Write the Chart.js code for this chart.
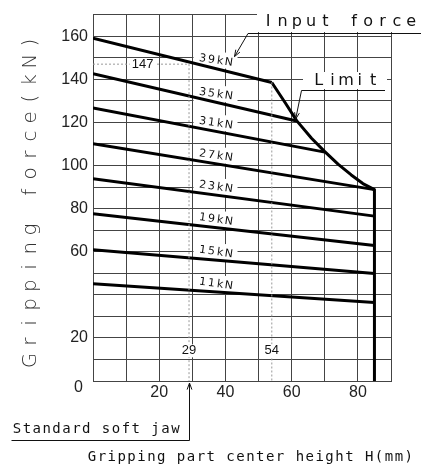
<!DOCTYPE html>
<html>
<head>
<meta charset="utf-8">
<script src="https://cdn.jsdelivr.net/npm/chart.js@4.4.1/dist/chart.umd.min.js"></script>
<style>
  html, body { margin: 0; padding: 0; background: #fff; }
  #chart { display: block; }
</style>
</head>
<body>
<canvas id="chart" width="428" height="475"></canvas>
<script>
// ------------------ Data ------------------
const inputForces = ["39kN", "35kN", "31kN", "27kN", "23kN", "19kN", "15kN", "11kN"];
const startForce = [159, 142.6, 126.7, 110.1, 93.9, 77.6, 60.9, 45.1];   // kN at H = 0
const endHeight = [54, 61.5, 70, 85, 85, 85, 85, 85];                   // mm where the line stops
const endForce = [138.5, 120.6, 106.2, 88.8, 76.5, 62.9, 49.9, 36.4];

const limitHeight = [54, 58, 61.5, 66, 70, 74, 78, 81.5, 85, 85];
const limitForce = [138.5, 129.2, 120.8, 112.6, 106.4, 100.6, 95.6, 91.6, 88.8, 0];

const jawHeight = 29;     // standard soft jaw
const breakHeight = 54;
const jawForce = 147;

const xTickLabels = [20, 40, 60, 80];
const yTickLabels = [0, 20, 60, 80, 100, 120, 140, 160];

// ------------------ Helpers ------------------
function spaced(ctx, str, x0, y, pitch) {
  ctx.textAlign = "center";
  ctx.textBaseline = "middle";
  for (let i = 0; i < str.length; i++) {
    ctx.fillText(str[i], x0 + pitch * (i + 0.5), y);
  }
}

function arrow(ctx, x1, y1, x2, y2) {
  ctx.beginPath();
  ctx.moveTo(x1, y1);
  ctx.lineTo(x2, y2);
  const a = Math.atan2(y2 - y1, x2 - x1);
  const len = 7;
  ctx.moveTo(x2, y2);
  ctx.lineTo(x2 - len * Math.cos(a - 0.35), y2 - len * Math.sin(a - 0.35));
  ctx.moveTo(x2, y2);
  ctx.lineTo(x2 - len * Math.cos(a + 0.35), y2 - len * Math.sin(a + 0.35));
  ctx.stroke();
}

function boxText(ctx, str, cx, cy, w, h) {
  ctx.fillStyle = "#fff";
  ctx.fillRect(cx - w / 2, cy - h / 2, w, h);
  ctx.fillStyle = "#111";
  ctx.font = "13px 'Liberation Sans', Arial, sans-serif";
  ctx.textAlign = "center";
  ctx.textBaseline = "middle";
  ctx.fillText(str, cx, cy);
}

// ------------------ Annotations ------------------
const annotate = {
  id: "annotate",
  beforeDatasetsDraw(chart) {
    const ctx = chart.ctx;
    const X = v => chart.scales.x.getPixelForValue(v);
    const Y = v => chart.scales.y.getPixelForValue(v);
    ctx.save();
    // force labels along each line
    inputForces.forEach((label, i) => {
      const h = 37;
      const v = startForce[i] + (endForce[i] - startForce[i]) * h / endHeight[i];
      const cx = X(h), cy = Y(v) - 8;
      ctx.fillStyle = "#fff";
      ctx.fillRect(cx - 22, cy - 8, 44, 16);
      ctx.save();
      ctx.translate(cx, cy);
      ctx.rotate(8 * Math.PI / 180);
      ctx.fillStyle = "#111";
      ctx.font = "11px 'DejaVu Sans', sans-serif";
      spaced(ctx, label, -17.5, 0, 8.8);
      ctx.restore();
    });
    ctx.restore();
  },
  afterDatasetsDraw(chart) {
    const ctx = chart.ctx;
    const X = v => chart.scales.x.getPixelForValue(v);
    const Y = v => chart.scales.y.getPixelForValue(v);
    ctx.save();
    boxText(ctx, String(jawForce), X(15), Y(jawForce), 26, 12);
    boxText(ctx, String(jawHeight), X(jawHeight), Y(14), 20, 13);
    boxText(ctx, String(breakHeight), X(breakHeight), Y(14), 20, 13);

    ctx.strokeStyle = "#111";
    ctx.lineWidth = 1;
    ctx.font = "16px 'DejaVu Sans', sans-serif";

    // Input force callout
    ctx.fillStyle = "#fff";
    ctx.fillRect(257, 8, 166, 24);
    ctx.fillStyle = "#111";
    spaced(ctx, "Input force", 261, 22, 14.3);
    const lx = X(37), ly = Y(startForce[0] + (endForce[0] - startForce[0]) * 37 / endHeight[0]) - 8;
    ctx.beginPath();
    ctx.moveTo(248, 33.5);
    ctx.lineTo(421, 33.5);
    ctx.stroke();
    arrow(ctx, 248, 33.5, lx + 19, ly - 4);

    // Limit callout
    ctx.fillStyle = "#fff";
    ctx.fillRect(303, 72, 84, 17);
    ctx.fillStyle = "#111";
    spaced(ctx, "Limit", 312, 81, 13.6);
    ctx.beginPath();
    ctx.moveTo(301.5, 90.5);
    ctx.lineTo(385, 90.5);
    ctx.stroke();
    arrow(ctx, 301.5, 90.5, X(61.2), Y(121.5));
    ctx.restore();
  },
  afterDraw(chart) {
    const ctx = chart.ctx;
    const X = v => chart.scales.x.getPixelForValue(v);
    const Y = v => chart.scales.y.getPixelForValue(v);
    ctx.save();
    // y zero label sits a little low and left
    ctx.fillStyle = "#222";
    ctx.font = "16px 'Liberation Sans', Arial, sans-serif";
    ctx.textAlign = "center";
    ctx.textBaseline = "middle";
    ctx.fillText(String(yTickLabels[0]), X(0) - 14.5, Y(0) + 7);

    // y title
    ctx.save();
    ctx.translate(31, 201.5);
    ctx.rotate(-Math.PI / 2);
    ctx.fillStyle = "#333";
    ctx.font = "200 20px 'DejaVu Sans', sans-serif";
    spaced(ctx, "Gripping force(kN)", -168.3, 0, 18.7);
    ctx.restore();

    // x title
    ctx.fillStyle = "#111";
    ctx.font = "14px 'DejaVu Sans Mono', monospace";
    spaced(ctx, "Gripping part center height H(mm)", 87, 457, 9.9);

    // standard soft jaw
    spaced(ctx, "Standard soft jaw", 12, 429, 9.9);
    ctx.strokeStyle = "#111";
    ctx.lineWidth = 1;
    const jx = Math.round(X(jawHeight)) + 0.5;
    ctx.beginPath();
    ctx.moveTo(11.5, 440.5);
    ctx.lineTo(jx, 440.5);
    ctx.stroke();
    arrow(ctx, jx, 440.5, jx, Y(0) + 2);
    ctx.restore();
  }
};

// ------------------ Datasets ------------------
const datasets = inputForces.map((label, i) => ({
  label: label,
  data: [{ x: 0, y: startForce[i] }, { x: endHeight[i], y: endForce[i] }],
  showLine: true,
  borderColor: "#000",
  borderWidth: 3,
  pointRadius: 0
}));

datasets.push({
  label: "Limit",
  data: limitHeight.map((h, i) => ({ x: h, y: limitForce[i] })),
  showLine: true,
  borderColor: "#000",
  borderWidth: 3,
  borderJoinStyle: "round",
  pointRadius: 0
});

const guideStyle = { showLine: true, borderColor: "#999", borderWidth: 1, borderDash: [2, 2], pointRadius: 0 };
datasets.unshift(
  Object.assign({ label: "jaw", data: [{ x: 0, y: jawForce }, { x: jawHeight, y: jawForce }, { x: jawHeight, y: 0 }] }, guideStyle),
  Object.assign({ label: "break", data: [{ x: breakHeight, y: endForce[0] }, { x: breakHeight, y: 0 }] }, guideStyle)
);

new Chart(document.getElementById("chart"), {
  type: "scatter",
  data: { datasets },
  options: {
    responsive: false,
    animation: false,
    devicePixelRatio: 1,
    layout: { padding: { top: 6, right: 37, left: 0, bottom: 0 } },
    plugins: { legend: { display: false }, tooltip: { enabled: false } },
    scales: {
      x: {
        type: "linear",
        min: 0,
        max: 90,
        afterFit: s => { s.height = 94; },
        ticks: {
          stepSize: 10,
          autoSkip: false,
          maxRotation: 0,
          padding: 2,
          color: "#222",
          font: { family: "'Liberation Sans', Arial, sans-serif", size: 16 },
          callback: v => xTickLabels.includes(v) ? String(v) : ""
        },
        grid: { color: "#444", lineWidth: 1, drawTicks: false },
        border: { color: "#444" }
      },
      y: {
        min: 0,
        max: 170,
        afterFit: s => { s.width = 93; },
        ticks: {
          stepSize: 10,
          autoSkip: false,
          padding: 5,
          color: "#222",
          font: { family: "'Liberation Sans', Arial, sans-serif", size: 16 },
          callback: v => (v !== 0 && yTickLabels.includes(v)) ? String(v) : ""
        },
        grid: { color: "#444", lineWidth: 1, drawTicks: false },
        border: { color: "#444" }
      }
    }
  },
  plugins: [annotate]
});
</script>
</body>
</html>
